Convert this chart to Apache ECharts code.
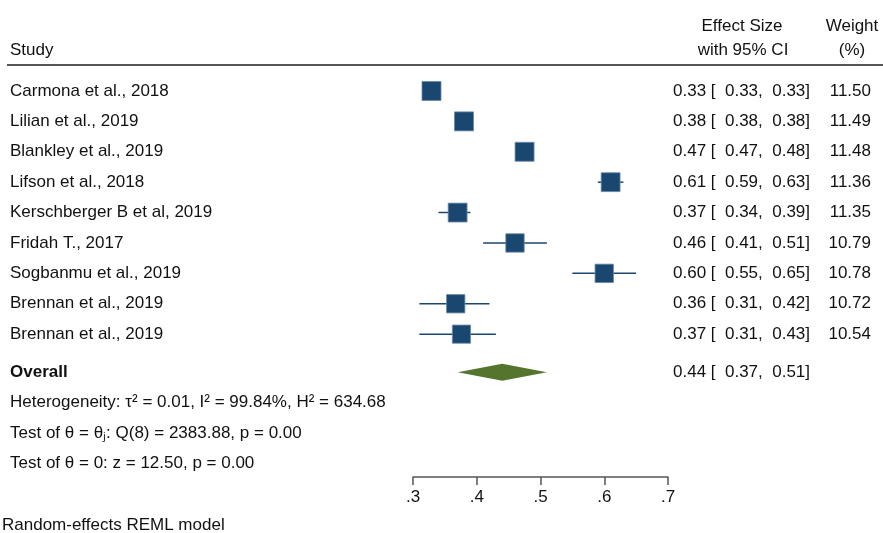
<!DOCTYPE html>
<html>
<head>
<meta charset="utf-8">
<style>
  html, body { margin: 0; padding: 0; background: #fff; }
  #main { width: 883px; height: 533px; }
</style>
<script src="https://cdn.jsdelivr.net/npm/echarts@6/dist/echarts.min.js"></script>
</head>
<body>
<div id="main"></div>
<script>
// study rows
const studies = [
  'Carmona et al., 2018', 'Lilian et al., 2019', 'Blankley et al., 2019',
  'Lifson et al., 2018', 'Kerschberger B et al, 2019', 'Fridah T., 2017',
  'Sogbanmu et al., 2019', 'Brennan et al., 2019', 'Brennan et al., 2019'
];
// plotted point estimates
const effect = [0.329, 0.38, 0.475, 0.61, 0.37, 0.46, 0.60, 0.367, 0.376];
// printed table values
const esShown = [0.33, 0.38, 0.47, 0.61, 0.37, 0.46, 0.60, 0.36, 0.37];
const ciLow = [0.33, 0.38, 0.47, 0.59, 0.34, 0.41, 0.55, 0.31, 0.31];
const ciHigh = [0.33, 0.38, 0.48, 0.63, 0.39, 0.51, 0.65, 0.42, 0.43];
const weights = [11.50, 11.49, 11.48, 11.36, 11.35, 10.79, 10.78, 10.72, 10.54];

const overall = [0.37, 0.51, 0.44]; // lo, hi, estimate
const statLines = [
  'Heterogeneity: τ² = 0.01, I² = 99.84%, H² = 634.68',
  'Test of θ = θⱼ: Q(8) = 2383.88, p = 0.00',
  'Test of θ = 0: z = 12.50, p = 0.00'
];
const xTicks = [0.3, 0.4, 0.5, 0.6, 0.7];

// row positions on the (hidden) y axis
const studyRows = studies.map((s, i) => i + 1);
const overallRow = 10.25;
const statRows = [11.25, 12.25, 13.25];

const navy = '#1a476f';
const green = '#55752f';
const ink = '#111';
const FONT = '"Liberation Sans", Arial, sans-serif';
const FS = 17;

const fmt = v => v.toFixed(2);
const ciText = (e, l, h) => `${fmt(e)} [  ${fmt(l)},  ${fmt(h)}]`;

// text table rows
const tableRows = [];
studies.forEach((s, i) => tableRows.push({
  row: studyRows[i], left: s, bold: false,
  es: ciText(esShown[i], ciLow[i], ciHigh[i]), w: weights[i].toFixed(2)
}));
tableRows.push({ row: overallRow, left: 'Overall', bold: true,
  es: ciText(overall[2], overall[0], overall[1]), w: '' });
statLines.forEach((t, i) => tableRows.push({ row: statRows[i], left: t, bold: false, es: '', w: '' }));

const myChart = echarts.init(document.getElementById('main'));

function txt(x, y, text, align, bold) {
  return {
    type: 'text', x: x, y: y,
    style: {
      text: text, fill: ink, align: align, verticalAlign: 'middle',
      font: (bold ? 'bold ' : '') + FS + 'px ' + FONT
    }
  };
}

const option = {
  animation: false,
  textStyle: { fontFamily: FONT },
  grid: { left: 413, right: 215, top: 60.6, bottom: 56 },
  title: {
    text: 'Random-effects REML model', left: 2, top: 517, padding: 0,
    textStyle: { fontSize: FS, fontWeight: 'normal', color: ink, fontFamily: FONT }
  },
  xAxis: {
    type: 'value', position: 'bottom',
    min: xTicks[0], max: xTicks[xTicks.length - 1], interval: 0.1,
    axisLine: { onZero: false, lineStyle: { color: '#555', width: 1.5 } },
    axisTick: { length: 8, lineStyle: { color: '#555', width: 1.5 } },
    axisLabel: {
      formatter: v => v.toFixed(1).replace(/^0/, ''),
      fontSize: FS, color: ink, margin: 12, showMinLabel: true, showMaxLabel: true
    },
    splitLine: { show: false }
  },
  yAxis: { type: 'value', inverse: true, min: 0, max: 13.7, show: false },
  graphic: [
    { type: 'line', shape: { x1: 7, y1: 65, x2: 883, y2: 65 }, style: { stroke: '#555', lineWidth: 2 } },
    txt(10, 50, 'Study', 'left'),
    txt(742, 26, 'Effect Size', 'center'),
    txt(743, 50, 'with 95% CI', 'center'),
    txt(852, 26, 'Weight', 'center'),
    txt(852, 50, '(%)', 'center')
  ],
  series: [
    {
      name: 'studies',
      type: 'custom',
      data: studies.map((s, i) => [ciLow[i], ciHigh[i], effect[i], studyRows[i], weights[i]]),
      encode: { x: [0, 1, 2], y: 3 },
      renderItem: function (params, api) {
        const lo = api.coord([api.value(0), api.value(3)]);
        const hi = api.coord([api.value(1), api.value(3)]);
        const c = api.coord([api.value(2), api.value(3)]);
        const side = 19 * Math.sqrt(api.value(4) / 11.5);
        return {
          type: 'group',
          children: [
            { type: 'line', shape: { x1: lo[0], y1: lo[1], x2: hi[0], y2: hi[1] },
              style: { stroke: navy, lineWidth: 1.5 } },
            { type: 'rect', shape: { x: c[0] - side / 2, y: c[1] - side / 2, width: side, height: side },
              style: { fill: navy, stroke: '#6a8aa8', lineWidth: 0.8 } }
          ]
        };
      }
    },
    {
      name: 'overall',
      type: 'custom',
      data: [[overall[0], overall[1], overall[2], overallRow]],
      encode: { x: [0, 1, 2], y: 3 },
      renderItem: function (params, api) {
        const lo = api.coord([api.value(0), api.value(3)]);
        const hi = api.coord([api.value(1), api.value(3)]);
        const c = api.coord([api.value(2), api.value(3)]);
        const h = 8.5;
        return {
          type: 'polygon',
          shape: { points: [[lo[0], lo[1]], [c[0], c[1] - h], [hi[0], hi[1]], [c[0], c[1] + h]] },
          style: { fill: green }
        };
      }
    },
    {
      name: 'table',
      type: 'custom',
      data: tableRows.map(r => [xTicks[0], r.row]),
      encode: { x: 0, y: 1 },
      renderItem: function (params, api) {
        const r = tableRows[params.dataIndex];
        const y = api.coord([api.value(0), api.value(1)])[1];
        const kids = [txt(10, y, r.left, 'left', r.bold)];
        if (r.es) kids.push(txt(673, y, r.es, 'left'));
        if (r.w) kids.push(txt(871, y, r.w, 'right'));
        return { type: 'group', children: kids };
      }
    }
  ]
};

myChart.setOption(option);
</script>
</body>
</html>
